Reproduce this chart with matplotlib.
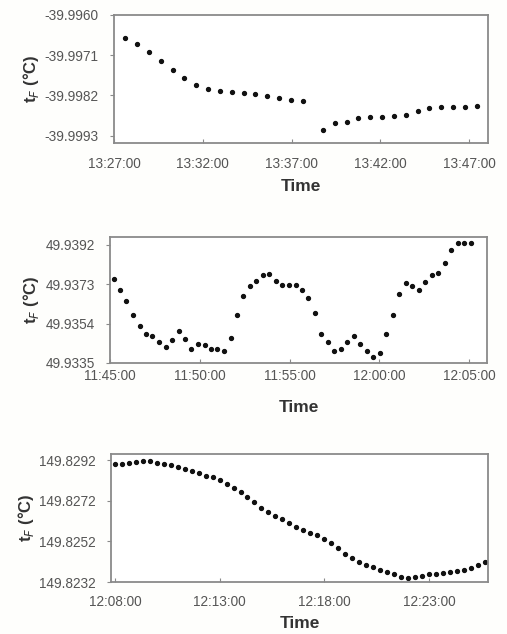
import matplotlib
matplotlib.use("Agg")
import matplotlib.pyplot as plt
import matplotlib.dates as mdates
import pandas as pd

plt.rcParams['font.family'] = ['Liberation Sans', 'DejaVu Sans']

# panel 1: -40 °C point
times1 = ["13:27:38", "13:28:18", "13:28:58", "13:29:38", "13:30:18", "13:30:58",
          "13:31:38", "13:32:18", "13:32:58", "13:33:38", "13:34:18", "13:34:58",
          "13:35:38", "13:36:18", "13:36:58", "13:37:38",
          "13:38:46", "13:39:26", "13:40:06", "13:40:46", "13:41:26", "13:42:06",
          "13:42:46", "13:43:26", "13:44:06", "13:44:46", "13:45:26", "13:46:06",
          "13:46:46", "13:47:26"]
temps1 = [-39.99664, -39.99678, -39.99700, -39.99725, -39.99751, -39.99773,
          -39.99792, -39.99802, -39.99809, -39.99811, -39.99813, -39.99816,
          -39.99822, -39.99828, -39.99832, -39.99836,
          -39.99914, -39.99895, -39.99893, -39.99883, -39.99880, -39.99880,
          -39.99876, -39.99873, -39.99863, -39.99855, -39.99852, -39.99851,
          -39.99852, -39.99848]
yticks1 = [-39.9993, -39.9982, -39.9971, -39.9960]
xticks1 = ["13:27:00", "13:32:00", "13:37:00", "13:42:00", "13:47:00"]

# panel 2: 50 °C point
times2 = ["11:45:12", "11:45:34", "11:45:55", "11:46:17", "11:46:39", "11:47:00",
          "11:47:22", "11:47:44", "11:48:06", "11:48:27", "11:48:49", "11:49:11",
          "11:49:32", "11:49:54", "11:50:16", "11:50:37", "11:50:59", "11:51:21",
          "11:51:43", "11:52:04", "11:52:26", "11:52:48", "11:53:09", "11:53:31",
          "11:53:53", "11:54:14", "11:54:36", "11:54:58", "11:55:20", "11:55:41",
          "11:56:03", "11:56:25", "11:56:46", "11:57:08", "11:57:30", "11:57:51",
          "11:58:13", "11:58:35", "11:58:57", "11:59:18", "11:59:40", "12:00:02",
          "12:00:23", "12:00:45", "12:01:07", "12:01:28", "12:01:50", "12:02:12",
          "12:02:34", "12:02:55", "12:03:17", "12:03:39", "12:04:00", "12:04:22",
          "12:04:44", "12:05:05"]
temps2 = [49.93756, 49.93704, 49.93651, 49.93580, 49.93530, 49.93492,
          49.93482, 49.93450, 49.93427, 49.93463, 49.93503, 49.93466,
          49.93419, 49.93440, 49.93439, 49.93419, 49.93418, 49.93408,
          49.93469, 49.93580, 49.93672, 49.93722, 49.93743, 49.93773,
          49.93777, 49.93745, 49.93724, 49.93724, 49.93724, 49.93703,
          49.93662, 49.93592, 49.93489, 49.93450, 49.93408, 49.93418,
          49.93450, 49.93480, 49.93440, 49.93408, 49.93379, 49.93398,
          49.93489, 49.93579, 49.93682, 49.93733, 49.93722, 49.93701,
          49.93741, 49.93773, 49.93785, 49.93833, 49.93894, 49.93926,
          49.93926, 49.93926]
yticks2 = [49.9335, 49.9354, 49.9373, 49.9392]
xticks2 = ["11:45:00", "11:50:00", "11:55:00", "12:00:00", "12:05:00"]

# panel 3: 150 °C point
times3 = ["12:08:00", "12:08:20", "12:08:40", "12:09:00", "12:09:20", "12:09:40",
          "12:10:00", "12:10:20", "12:10:40", "12:11:00", "12:11:20", "12:11:40",
          "12:12:00", "12:12:20", "12:12:40", "12:13:00", "12:13:20", "12:13:40",
          "12:14:00", "12:14:20", "12:14:40", "12:15:00", "12:15:20", "12:15:40",
          "12:16:00", "12:16:20", "12:16:40", "12:17:00", "12:17:20", "12:17:40",
          "12:18:00", "12:18:20", "12:18:40", "12:19:00", "12:19:20", "12:19:40",
          "12:20:00", "12:20:20", "12:20:40", "12:21:00", "12:21:20", "12:21:40",
          "12:22:00", "12:22:20", "12:22:40", "12:23:00", "12:23:20", "12:23:40",
          "12:24:00", "12:24:20", "12:24:40", "12:25:00", "12:25:20", "12:25:40"]
temps3 = [149.82902, 149.82902, 149.82905, 149.82914, 149.82917, 149.82915,
          149.82909, 149.82902, 149.82897, 149.82885, 149.82875, 149.82867,
          149.82856, 149.82844, 149.82838, 149.82824, 149.82804, 149.82783,
          149.82763, 149.82737, 149.82714, 149.82687, 149.82664, 149.82646,
          149.82629, 149.82612, 149.82593, 149.82576, 149.82563, 149.82552,
          149.82530, 149.82510, 149.82486, 149.82457, 149.82436, 149.82419,
          149.82406, 149.82394, 149.82381, 149.82370, 149.82357, 149.82345,
          149.82340, 149.82345, 149.82350, 149.82357, 149.82360, 149.82362,
          149.82367, 149.82375, 149.82381, 149.82391, 149.82403, 149.82419]
yticks3 = [149.8232, 149.8252, 149.8272, 149.8292]
xticks3 = ["12:08:00", "12:13:00", "12:18:00", "12:23:00"]

day = "2000-01-01 "


def to_dt(lst):
    return pd.to_datetime([day + t for t in lst])


W, H = 507, 634
fig = plt.figure(figsize=(W / 100, H / 100), dpi=100)
fig.patch.set_facecolor('#fefefc')

panels = [
    # (times, temps, yticks, xticks, box(l,t,r,b px), xlim, ylim,
    #  ylabel x px, Time y px, x tick pad)
    (times1, temps1, yticks1, xticks1, (114, 15, 488, 143),
     ("13:27:19", "13:48:04"), (-39.99950, -39.99600), 31, 187, 10),
    (times2, temps2, yticks2, xticks2, (110, 237, 487, 363),
     ("11:45:00", "12:06:00"), (49.93350, 49.93957), 31, 408, 4),
    (times3, temps3, yticks3, xticks3, (111, 454, 488, 582),
     ("12:07:49", "12:25:49"), (149.82320, 149.82951), 26, 623, 9),
]

for times, temps, yt, xt, box, xl, yl, ylab_x, time_y, xpad in panels:
    l, t, r, b = box
    ax = fig.add_axes([l / W, 1 - b / H, (r - l) / W, (b - t) / H])
    ax.set_facecolor('white')
    ax.plot(to_dt(times), temps, 'o', color='#111111', markersize=2.8, linestyle='none')
    ax.set_xlim(to_dt([xl[0]])[0], to_dt([xl[1]])[0])
    ax.set_ylim(*yl)
    ax.set_yticks(yt)
    ax.set_yticklabels(['%.4f' % v for v in yt])
    ax.set_xticks(to_dt(xt))
    ax.xaxis.set_major_formatter(mdates.DateFormatter('%H:%M:%S'))
    for s in ax.spines.values():
        s.set_color('#8a8a8a')
        s.set_linewidth(1.3)
    ax.tick_params(axis='both', labelsize=9.8, colors='#8a8a8a', labelcolor='#555555',
                   length=3, width=0.8)
    ax.tick_params(axis='x', direction='in', pad=xpad)
    ax.tick_params(axis='y', direction='out', pad=8)
    fig.text(((l + r) / 2) / W, 1 - time_y / H, 'Time', ha='center', va='center',
             fontsize=12.5, fontweight='bold', color='#333333')
    fig.text(ylab_x / W, 1 - ((t + b) / 2) / H, 't$_F$ (°C)', ha='center', va='center',
             rotation=90, fontsize=12, fontweight='bold', color='#333333')

fig.savefig('out.png', dpi=100, facecolor=fig.get_facecolor())
